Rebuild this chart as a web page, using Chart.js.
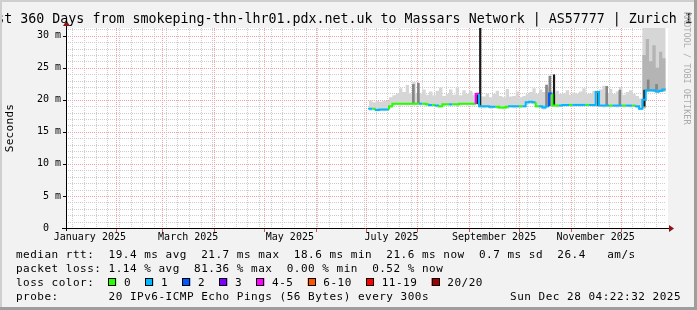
<!DOCTYPE html>
<html>
<head>
<meta charset="utf-8">
<script src="https://cdn.jsdelivr.net/npm/chart.js@4.4.1/dist/chart.umd.min.js"></script>
<style>
  html, body { margin: 0; padding: 0; background: #f2f2f2; }
  canvas { display: block; }
</style>
</head>
<body>
<canvas id="smoke" width="697" height="310"></canvas>
<script>
// x values are days since 2025-01-01 00:00
const startDay = 1.18;   // Jan 2 04:22
const endDay = 361.18;   // Dec 28 04:22

const days = [
  183, 185, 187, 189, 191, 193, 195, 197, 199, 201,
  203, 205, 207, 209, 211, 213, 215, 217, 219, 221,
  223, 225, 227, 229, 231, 233, 235, 237, 239, 241,
  243, 245, 247, 249, 251, 253, 255, 257, 259, 261,
  263, 265, 267, 269, 271, 273, 275, 277, 279, 281,
  283, 285, 287, 289, 291, 293, 295, 297, 299, 301,
  303, 305, 307, 309, 311, 313, 315, 317, 319, 321,
  323, 325, 327, 329, 331, 333, 335, 337, 339, 341,
  343, 345, 347, 349, 351, 353, 355, 357, 359, 361
];

// median rtt in ms
const median = [
  18.5, 18.6, 18.6, 18.4, 18.5, 18.5, 18.5, 19.0, 19.4, 19.4,
  19.4, 19.4, 19.4, 19.4, 19.4, 19.4, 19.4, 19.4, 19.3, 19.2,
  19.2, 19.1, 19.0, 19.3, 19.3, 19.3, 19.3, 19.3, 19.4, 19.4,
  19.4, 19.4, 19.4, 20.9, 19.0, 19.0, 19.0, 18.9, 18.9, 18.9,
  18.8, 18.8, 18.9, 19.0, 19.0, 19.0, 19.0, 19.0, 19.6, 19.7,
  19.6, 19.0, 19.0, 18.8, 19.0, 21.0, 19.1, 19.1, 19.1, 19.2,
  19.2, 19.2, 19.2, 19.2, 19.2, 19.2, 19.2, 19.2, 19.2, 21.2,
  19.1, 19.1, 19.1, 19.1, 19.1, 19.1, 19.1, 19.1, 19.1, 19.1,
  19.1, 19.0, 18.6, 20.0, 21.5, 21.5, 21.5, 21.3, 21.4, 21.6
];

// loss colour class (index into lossNames)
const loss = [
  1, 1, 0, 1, 1, 1, 1, 0, 0, 0,
  0, 0, 0, 0, 0, 0, 1, 0, 0, 1,
  0, 1, 0, 0, 0, 1, 0, 0, 0, 0,
  0, 0, 0, 4, 1, 1, 1, 1, 1, 0,
  0, 0, 0, 1, 1, 1, 0, 1, 1, 1,
  1, 0, 1, 1, 1, 2, 0, 0, 1, 1,
  1, 0, 1, 1, 1, 1, 0, 1, 1, 1,
  1, 1, 1, 0, 1, 1, 1, 0, 1, 1,
  0, 1, 1, 1, 1, 1, 1, 1, 1, 1
];

// smoke: fastest and slowest pings
const smokeLo = [
  18.3, 18.3, 18.4, 18.2, 18.3, 18.2, 18.3, 18.7, 19.1, 19.2,
  19.1, 19.2, 19.1, 19.2, 19.1, 19.2, 19.1, 19.2, 19.0, 18.9,
  18.9, 18.8, 18.8, 19.0, 19.1, 19.0, 19.1, 19.0, 19.1, 19.2,
  19.1, 19.2, 19.1, 19.2, 18.8, 18.7, 18.8, 18.6, 18.7, 18.6,
  18.6, 18.5, 18.6, 18.8, 18.7, 18.8, 18.7, 18.8, 19.3, 19.4,
  19.3, 18.8, 18.7, 18.5, 18.8, 18.9, 18.9, 18.8, 18.9, 19.0,
  18.9, 19.0, 18.9, 19.0, 18.9, 19.0, 18.9, 19.0, 18.9, 19.0,
  18.9, 18.8, 18.9, 18.8, 18.9, 18.8, 18.9, 18.8, 18.9, 18.8,
  18.9, 18.7, 18.4, 18.7, 21.2, 21.3, 21.2, 21.1, 21.2, 21.3
];
const smokeHi = [
  19.8, 19.9, 19.6, 19.8, 19.7, 19.8, 19.8, 20.4, 20.7, 21.0,
  21.8, 21.2, 22.3, 21.0, 22.8, 20.9, 21.0, 21.6, 20.8, 21.3,
  20.7, 21.4, 21.9, 20.6, 20.9, 21.6, 20.8, 21.9, 20.7, 21.5,
  20.9, 21.4, 20.8, 21.2, 20.6, 20.5, 21.0, 20.4, 20.9, 21.4,
  20.6, 20.4, 21.7, 20.5, 20.6, 21.3, 20.4, 20.6, 20.9, 21.2,
  21.8, 20.9, 21.6, 21.2, 22.0, 21.5, 21.0, 21.4, 20.9, 21.0,
  21.5, 20.8, 21.1, 20.9, 21.3, 21.8, 20.9, 21.0, 21.4, 21.2,
  21.6, 22.2, 21.0, 21.7, 20.9, 21.3, 22.0, 20.8, 21.2, 21.5,
  20.9, 20.6, 20.2, 31.2, 31.2, 31.2, 31.2, 31.2, 31.2, 31.2
];
// denser part of the smoke (only in the last weeks)
const smokeMid = [
  null, null, null, null, null, null, null, null, null, null,
  null, null, null, null, null, null, null, null, null, null,
  null, null, null, null, null, null, null, null, null, null,
  null, null, null, null, null, null, null, null, null, null,
  null, null, null, null, null, null, null, null, null, null,
  null, null, null, null, null, null, null, null, null, null,
  null, null, null, null, null, null, null, null, null, null,
  null, null, null, null, null, null, null, null, null, null,
  null, null, null, 27.0, 29.5, 26.0, 28.5, 25.0, 27.5, 26.5
];

const greySpikeDays = [209.6, 212.6, 289.5, 291.5, 325.6, 333.5, 350.5, 355.5];
const greySpikeLo = [19.5, 19.5, 19.0, 19.1, 19.2, 19.2, 21.6, 21.6];
const greySpikeHi = [22.4, 22.6, 22.3, 23.7, 22.1, 21.5, 23.1, 22.4];
const darkSpikeDays = [248.0, 249.7, 294.0, 320.6, 348.2];
const darkSpikeLo = [19.4, 19.0, 19.1, 19.1, 19.0];
const darkSpikeHi = [20.9, 31.2, 23.9, 21.2, 21.5];

const monthStarts = [31, 59, 90, 120, 151, 181, 212, 243, 273, 304, 334];
const labelDays = [15.5, 74.5, 135.5, 196.5, 258, 319];
const monthLabels = ["January 2025", "March 2025", "May 2025", "July 2025", "September 2025", "November 2025"];
const yLabels = [0, 5, 10, 15, 20, 25, 30];

const lossNames = ["0", "1", "2", "3", "4-5", "6-10", "11-19", "20/20"];
const lossColors = ["#26ff00", "#00b8ff", "#0059ff", "#7e00ff", "#ff00ff", "#ff5500", "#ff0000", "#a10000"];

const title = "Last 360 Days from smokeping-thn-lhr01.pdx.net.uk to Massars Network | AS57777 | Zurich IPv6";
const legendRtt = "median rtt:  19.4 ms avg  21.7 ms max  18.6 ms min  21.6 ms now  0.7 ms sd  26.4   am/s";
const legendLoss = "packet loss: 1.14 % avg  81.36 % max  0.00 % min  0.52 % now";
const legendProbe = "probe:       20 IPv6-ICMP Echo Pings (56 Bytes) every 300s";
const stamp = "Sun Dec 28 04:22:32 2025";

const MONO = "'DejaVu Sans Mono'";

const pts = ys => days.map((d, i) => ({ x: d, y: ys[i] }));
const bars = (xs, lo, hi) => xs.map((d, i) => ({ x: d, y: [lo[i], hi[i]] }));

const rrdFrame = {
  id: "rrdFrame",
  beforeDraw(chart) {
    const { ctx, chartArea: a, scales } = chart;
    ctx.save();
    ctx.fillStyle = "#f2f2f2";
    ctx.fillRect(0, 0, chart.width, chart.height);
    ctx.fillStyle = "#ffffff";
    ctx.fillRect(a.left, a.top, a.right - a.left + 2, a.bottom - a.top);

    ctx.lineWidth = 1;
    ctx.setLineDash([1, 1]);
    // minor grid
    ctx.strokeStyle = "#cccccc";
    ctx.beginPath();
    for (let v = 1; v < 31.2; v++) {
      if (v % 5 === 0) continue;
      const y = Math.round(scales.y.getPixelForValue(v)) + 0.5;
      ctx.moveTo(a.left, y); ctx.lineTo(a.right, y);
    }
    for (let d = 5; d < endDay; d += 7) {
      if (d < startDay) continue;
      const x = Math.round(scales.x.getPixelForValue(d)) + 0.5;
      ctx.moveTo(x, a.top); ctx.lineTo(x, a.bottom);
    }
    ctx.stroke();
    // major grid
    ctx.strokeStyle = "#f2a4a4";
    ctx.beginPath();
    for (let v = 5; v <= 30; v += 5) {
      const y = Math.round(scales.y.getPixelForValue(v)) + 0.5;
      ctx.moveTo(a.left, y); ctx.lineTo(a.right, y);
    }
    monthStarts.forEach(d => {
      const x = Math.round(scales.x.getPixelForValue(d)) + 0.5;
      ctx.moveTo(x, a.top); ctx.lineTo(x, a.bottom);
    });
    ctx.stroke();
    ctx.restore();
  },
  afterDatasetsDraw(chart) {
    const { ctx, chartArea: a, scales } = chart;
    const y0 = Math.round(a.bottom) + 0.5;
    const x0 = Math.round(a.left) + 0.5;
    ctx.save();
    ctx.lineWidth = 1;
    ctx.strokeStyle = "#000";
    ctx.beginPath();
    ctx.moveTo(a.left - 4, y0); ctx.lineTo(a.right + 3, y0);
    ctx.moveTo(x0, a.bottom + 3); ctx.lineTo(x0, a.top - 2);
    // major ticks
    for (let v = 5; v <= 30; v += 5) {
      const y = Math.round(scales.y.getPixelForValue(v)) + 0.5;
      ctx.moveTo(a.left - 3, y); ctx.lineTo(a.left, y);
    }
    ctx.stroke();
    ctx.strokeStyle = "#e05050";
    ctx.beginPath();
    monthStarts.forEach(d => {
      const x = Math.round(scales.x.getPixelForValue(d)) + 0.5;
      ctx.moveTo(x, a.bottom + 1); ctx.lineTo(x, a.bottom + 4);
    });
    ctx.stroke();
    // arrows
    ctx.fillStyle = "#8b1515";
    ctx.beginPath();
    ctx.moveTo(a.right + 3, y0 - 3.5); ctx.lineTo(a.right + 8, y0); ctx.lineTo(a.right + 3, y0 + 3.5);
    ctx.closePath(); ctx.fill();
    ctx.beginPath();
    ctx.moveTo(x0 - 3.5, a.top - 2); ctx.lineTo(x0, a.top - 7.5); ctx.lineTo(x0 + 3.5, a.top - 2);
    ctx.closePath(); ctx.fill();
    ctx.restore();
  },
  afterDraw(chart) {
    const { ctx } = chart;
    ctx.save();
    ctx.fillStyle = "#000";
    ctx.textBaseline = "alphabetic";

    ctx.font = "13.3px " + MONO;
    ctx.textAlign = "left";
    ctx.fillText(title, -19.7, 23);

    ctx.font = "11px " + MONO;
    ctx.letterSpacing = "0.5px";
    ctx.fillText(legendRtt, 16, 258);
    ctx.fillText(legendLoss, 16, 272);
    ctx.fillText("loss color:", 16, 286);
    ctx.fillText(legendProbe, 16, 300);
    ctx.textAlign = "right";
    ctx.fillText(stamp, 681, 300);
    ctx.textAlign = "left";

    let sx = 108.3;
    lossNames.forEach((name, i) => {
      ctx.fillStyle = lossColors[i];
      ctx.fillRect(sx, 278, 8, 8);
      ctx.strokeStyle = "#000";
      ctx.lineWidth = 1;
      ctx.strokeRect(Math.round(sx) + 0.5, 278.5, 7, 7);
      ctx.fillStyle = "#000";
      const lx = sx + 15.7;
      ctx.fillText(name, lx, 286);
      sx = lx + ctx.measureText(name).width + 14.2;
    });

    // axis title
    ctx.save();
    ctx.translate(10.5, 128);
    ctx.rotate(-Math.PI / 2);
    ctx.textAlign = "center";
    ctx.textBaseline = "middle";
    ctx.letterSpacing = "0.3px";
    ctx.fillText("Seconds", 0, 0);
    ctx.restore();

    // watermark
    ctx.save();
    ctx.translate(686, 12);
    ctx.rotate(Math.PI / 2);
    ctx.font = "8.5px " + MONO;
    ctx.letterSpacing = "0px";
    ctx.fillStyle = "#aaaaaa";
    ctx.textAlign = "left";
    ctx.textBaseline = "middle";
    ctx.fillText("RRDTOOL / TOBI OETIKER", 0, 0);
    ctx.restore();

    // 3d frame
    ctx.fillStyle = "#cfcfcf";
    ctx.fillRect(0, 0, chart.width, 2);
    ctx.fillRect(0, 0, 2, chart.height);
    ctx.fillStyle = "#9e9e9e";
    ctx.fillRect(0, chart.height - 3, chart.width, 3);
    ctx.fillRect(chart.width - 3, 0, 3, chart.height);
    ctx.restore();
  }
};

Chart.defaults.font.family = MONO;
Chart.defaults.font.size = 10;
Chart.defaults.color = "#000";

new Chart(document.getElementById("smoke"), {
  type: "line",
  data: {
    datasets: [
      { data: pts(smokeLo), borderWidth: 0, borderColor: "rgba(0,0,0,0)", fill: false, stepped: "after", order: 5 },
      { data: pts(smokeHi), borderWidth: 0, borderColor: "rgba(0,0,0,0)", backgroundColor: "#d6d6d6", fill: "-1", stepped: "after", order: 4 },
      { data: days.map((d, i) => ({ x: d, y: smokeMid[i] ?? smokeLo[i] })), borderWidth: 0, borderColor: "rgba(0,0,0,0)", backgroundColor: "#b4b4b4", fill: "-2", stepped: "after", order: 3 },
      { type: "bar", data: bars(greySpikeDays, greySpikeLo, greySpikeHi), backgroundColor: "#858585", barThickness: 2, grouped: false, order: 2 },
      { type: "bar", data: bars(darkSpikeDays, darkSpikeLo, darkSpikeHi), backgroundColor: "#1a1a1a", barThickness: 1.5, grouped: false, order: 1 },
      {
        data: pts(median), borderWidth: 2, stepped: "after", fill: false,
        borderColor: lossColors[1],
        segment: { borderColor: c => lossColors[loss[c.p1DataIndex]] },
        order: 0
      }
    ]
  },
  options: {
    responsive: false,
    animation: false,
    devicePixelRatio: 1,
    layout: { padding: { top: 28, right: 31, bottom: 60, left: 0 } },
    plugins: { legend: { display: false }, tooltip: { enabled: false } },
    elements: { point: { radius: 0 } },
    scales: {
      x: {
        type: "linear", min: startDay, max: endDay, offset: false,
        grid: { display: false, drawTicks: false }, border: { display: false },
        afterBuildTicks: s => { s.ticks = labelDays.map(v => ({ value: v })); },
        afterFit: s => { s.height = 22; },
        ticks: { autoSkip: false, maxRotation: 0, padding: 3, callback: (v, i) => monthLabels[i] }
      },
      y: {
        type: "linear", min: 0, max: 31.2,
        grid: { display: false, drawTicks: false }, border: { display: false },
        afterBuildTicks: s => { s.ticks = yLabels.map(v => ({ value: v })); },
        afterFit: s => { s.width = 66; },
        ticks: { padding: 5, callback: v => v === 0 ? "0  " : v + " m" }
      }
    }
  },
  plugins: [rrdFrame]
});
</script>
</body>
</html>
